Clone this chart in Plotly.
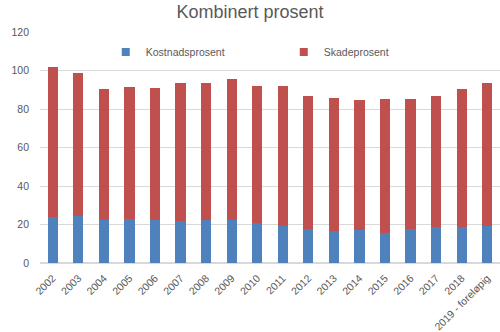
import plotly.graph_objects as go

years = ["2002", "2003", "2004", "2005", "2006", "2007", "2008", "2009", "2010",
         "2011", "2012", "2013", "2014", "2015", "2016", "2017", "2018", "2019 - foreløpig"]
kostnad = [23.7, 24.6, 22.6, 23.0, 22.6, 21.6, 22.4, 22.6, 20.8,
           19.4, 17.7, 16.8, 17.3, 15.6, 17.5, 18.7, 18.5, 19.4]
total = [102.0, 98.5, 90.2, 91.2, 90.7, 93.3, 93.7, 95.7, 92.1,
         91.7, 86.9, 85.9, 84.5, 85.0, 85.3, 86.9, 90.5, 93.3]
skade = [round(t - k, 1) for t, k in zip(total, kostnad)]

BLUE = "#4f81bd"
RED = "#c0504d"

fig = go.Figure()
fig.add_trace(go.Bar(x=years, y=kostnad, name="Kostnadsprosent", showlegend=False,
                     legendgroup="k", marker=dict(color=BLUE, line=dict(width=0))))
fig.add_trace(go.Bar(x=years, y=skade, name="Skadeprosent", showlegend=False,
                     legendgroup="s", marker=dict(color=RED, line=dict(width=0))))
# legend entries with small square symbols
fig.add_trace(go.Scatter(x=[None], y=[None], mode="markers", name="Kostnadsprosent",
                         legendgroup="k",
                         marker=dict(symbol="square", size=8, color=BLUE)))
fig.add_trace(go.Scatter(x=[None], y=[None], mode="markers", name="Skadeprosent",
                         legendgroup="s",
                         marker=dict(symbol="square", size=8, color=RED)))

fig.update_layout(
    barmode="stack",
    bargap=0.6,
    width=500, height=332,
    margin=dict(l=40, r=0, t=32, b=69),
    paper_bgcolor="white", plot_bgcolor="white",
    font=dict(family="Liberation Sans, Arial, sans-serif", color="#595959", size=10),
    title=dict(text="Kombinert prosent", x=0.5, xanchor="center", y=0.965, yanchor="middle",
               font=dict(size=18, color="#595959")),
    legend=dict(orientation="h", x=0.143, xanchor="left", y=0.913, yanchor="middle",
                entrywidth=133, entrywidthmode="pixels", traceorder="normal",
                font=dict(size=10.5, color="#595959"), bgcolor="rgba(0,0,0,0)",
                itemclick=False),
    xaxis=dict(tickangle=-45, showgrid=False, showline=True, linecolor="#d9d9d9",
               ticks="", ticklabelstandoff=4, tickfont=dict(size=10.5, color="#595959")),
    yaxis=dict(range=[0, 120], dtick=20, showgrid=True, gridcolor="#d9d9d9",
               zeroline=True, zerolinecolor="#d9d9d9", ticks="", ticklabelstandoff=10,
               tickfont=dict(size=10.5, color="#595959")),
)

fig.write_html("out.html")
